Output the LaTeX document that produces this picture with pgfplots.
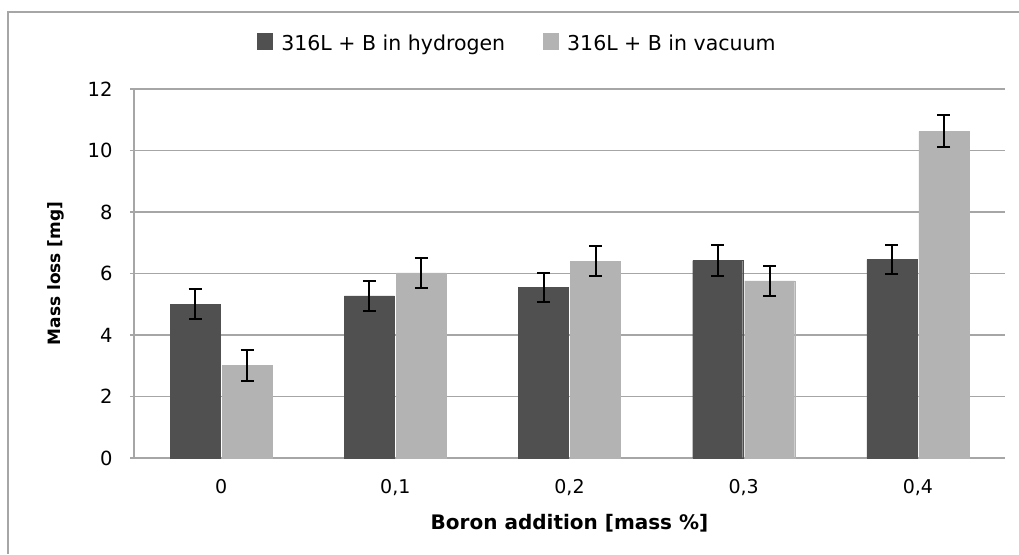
\documentclass[border=0pt]{standalone}
\usepackage{pgfplots}
\pgfplotsset{compat=1.18}
\usepackage{fontspec}
\setmainfont{DejaVu Sans}
\definecolor{darkbar}{HTML}{505050}
\definecolor{lightbar}{HTML}{B3B3B3}
\definecolor{gridc}{HTML}{A6A6A6}
\begin{document}
\begin{tikzpicture}[x=1pt,y=1pt]
\useasboundingbox (0,0) rectangle (1019,554);
\draw[gridc,line width=2pt] (8,0) -- (8,542) -- (1019,542);
\begin{axis}[
  at={(134pt,96pt)}, anchor=south west,
  scale only axis, width=871pt, height=369pt,
  xmin=-0.5, xmax=4.5, ymin=0, ymax=12,
  ytick={0,2,...,12},
  xtick={0,1,2,3,4},
  xticklabels={0,{0,1},{0,2},{0,3},{0,4}},
  major x tick style={draw=none},
  ytick style={draw=gridc,line width=1.5pt},
  tick align=outside, major tick length=4pt,
  ymajorgrids, grid style={draw=gridc,line width=1.5pt},
  axis x line*=bottom, axis y line*=left,
  axis line style={draw=gridc,line width=1.5pt,-},
  ybar, bar width=50pt,
  yticklabel style={font=\fontsize{19.5}{22}\selectfont, xshift=-14pt},
  xticklabel style={font=\fontsize{19}{22}\selectfont, yshift=-14pt},
  /pgf/number format/assume math mode=true,
  ylabel={\bfseries Mass loss [mg]},
  ylabel style={font=\fontsize{17}{20}\selectfont, at={(axis description cs:0,0.5)}, yshift=66pt, anchor=south},
  xlabel={\bfseries Boron addition [mass \%]},
  xlabel style={font=\fontsize{20}{24}\selectfont, yshift=-12pt},
  legend style={at={(0.5,1.0)}, yshift=33pt, xshift=-52pt, anchor=south, draw=none, fill=none,
     legend columns=2, font=\fontsize{20.5}{24}\selectfont,
     /tikz/every even column/.append style={column sep=36pt}},
  legend image code/.code={\path[draw=none,fill=none] (0pt,0pt) -- (22pt,0pt); \fill[#1,draw=none] (0pt,-7pt) rectangle (16pt,10pt);},
  error bars/y dir=both, error bars/y explicit,
  error bars/error bar style={black,line width=2pt},
  error bars/error mark options={rotate=90,mark size=6.5pt,line width=2pt,black},
]
\addplot[fill=darkbar,draw=darkbar] coordinates {
 (0,5.00) +- (0,0.48)
 (1,5.27) +- (0,0.48)
 (2,5.55) +- (0,0.48)
 (3,6.42) +- (0,0.50)
 (4,6.45) +- (0,0.48)
};
\addplot[fill=lightbar,draw=lightbar] coordinates {
 (0,3.02) +- (0,0.50)
 (1,6.02) +- (0,0.48)
 (2,6.40) +- (0,0.48)
 (3,5.76) +- (0,0.48)
 (4,10.62) +- (0,0.52)
};
\legend{316L + B in hydrogen, 316L + B in vacuum}
\end{axis}
\end{tikzpicture}
\end{document}
